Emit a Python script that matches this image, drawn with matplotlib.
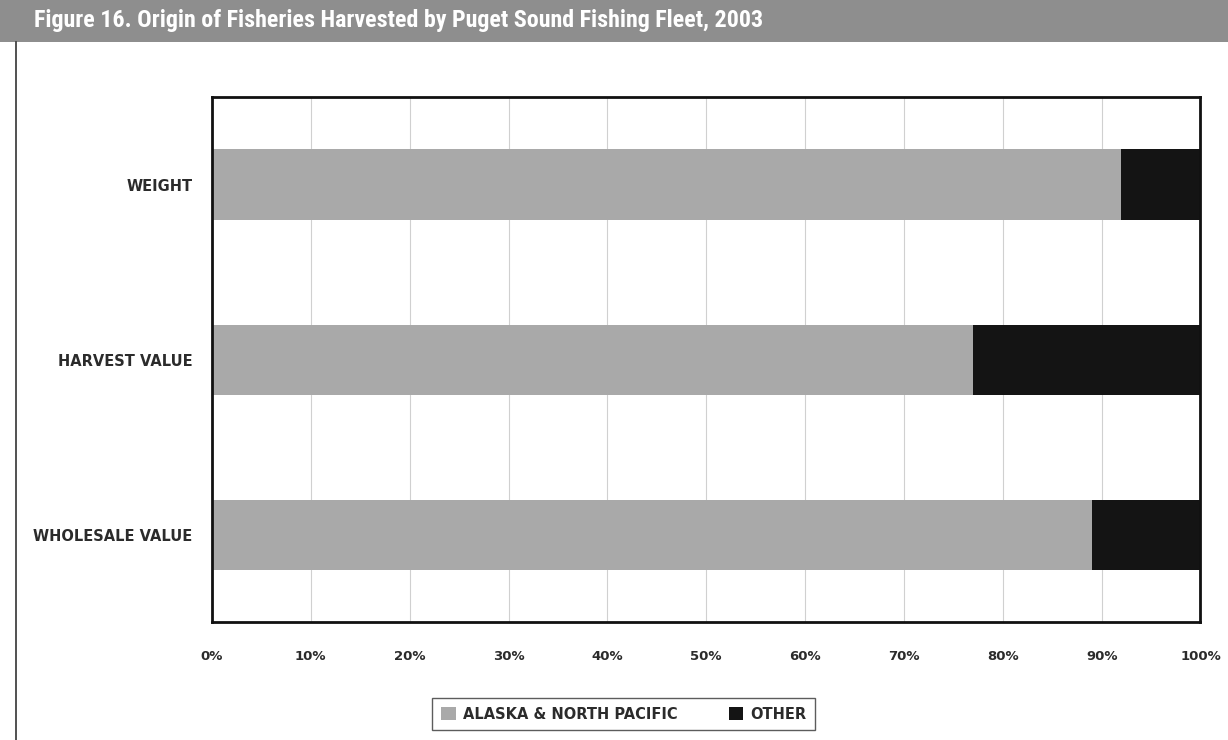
import matplotlib.pyplot as plt
from matplotlib.patches import Rectangle, Patch
from matplotlib.lines import Line2D
from matplotlib import font_manager
import numpy as np

# Share of each measure caught in Alaska / North Pacific vs. elsewhere (percent)
measures = ['WEIGHT', 'HARVEST VALUE', 'WHOLESALE VALUE']
alaska_pct = [92, 77, 89]
other_pct = [8, 23, 11]
tick_vals = [0, 10, 20, 30, 40, 50, 60, 70, 80, 90, 100]
tick_labels = ['0%', '10%', '20%', '30%', '40%', '50%', '60%', '70%', '80%', '90%', '100%']

alaska_color = '#a9a9a9'
other_color = '#141414'
label_color = '#2b2b2b'

# pick a narrow face for the banner if one is around
names = {f.name for f in font_manager.fontManager.ttflist}
narrow = [n for n in ['Liberation Sans Narrow', 'DejaVu Sans Condensed', 'Roboto Condensed']
          if n in names]

fig = plt.figure(figsize=(12.28, 7.40), dpi=100)
fig.patch.set_facecolor('white')

# title banner
fig.patches.append(Rectangle((0, 0.943), 1, 0.057, transform=fig.transFigure,
                             facecolor='#8e8e8e', edgecolor='none', zorder=0))
fig.text(0.028, 0.972, 'Figure 16. Origin of Fisheries Harvested by Puget Sound Fishing Fleet, 2003',
         color='white', fontsize=17.3 if narrow else 13, fontweight='bold',
         fontstretch='condensed', va='center', ha='left',
         family=narrow + ['DejaVu Sans'])

# left page rule
fig.add_artist(Line2D([0.013, 0.013], [0.0, 0.943], transform=fig.transFigure,
                      color='#333333', linewidth=1.2))

ax = fig.add_axes([0.1726, 0.159, 0.805, 0.71])
y = np.arange(len(measures))
ax.barh(y, alaska_pct, height=0.4, color=alaska_color, zorder=2)
ax.barh(y, other_pct, left=alaska_pct, height=0.4, color=other_color, zorder=2)

ax.set_xlim(0, 100)
ax.set_ylim(2.5, -0.5)
ax.set_yticks(y)
ax.set_yticklabels(measures, fontsize=10.5, fontweight='bold', color=label_color)
ax.set_xticks(tick_vals)
ax.set_xticklabels(tick_labels, fontsize=9.5, fontweight='bold', color=label_color)
ax.tick_params(axis='both', length=0)
ax.tick_params(axis='y', pad=14)
ax.tick_params(axis='x', pad=20)
ax.grid(axis='x', color='#d0d0d0', linewidth=0.8, zorder=1)
for s in ax.spines.values():
    s.set_linewidth(2)
    s.set_color('#111111')

handles = [Patch(facecolor=alaska_color, label='ALASKA & NORTH PACIFIC'),
           Patch(facecolor=other_color, label='OTHER')]
leg = fig.legend(handles=handles, loc='center', bbox_to_anchor=(0.508, 0.035), ncol=2,
                 frameon=True, fancybox=False, handlelength=1.0, handleheight=1.0,
                 columnspacing=3.5, handletextpad=0.5, borderpad=0.6,
                 prop={'size': 10.5, 'weight': 'bold'})
leg.get_frame().set_edgecolor('#333333')
leg.get_frame().set_linewidth(1.0)
for t in leg.get_texts():
    t.set_color(label_color)

fig.savefig('out.png', dpi=100)
